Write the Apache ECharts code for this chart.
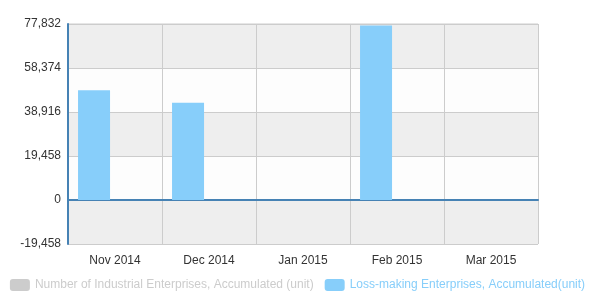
<!DOCTYPE html>
<html><head><meta charset="utf-8">
<script src="https://cdn.jsdelivr.net/npm/echarts@6/dist/echarts.min.js"></script>
<style>html,body{margin:0;padding:0;background:#fff}#c{width:595px;height:300px}</style>
</head><body><div id="c"></div>
<script>
var categories = ['Nov 2014', 'Dec 2014', 'Jan 2015', 'Feb 2015', 'Mar 2015'];
var lossMaking = [48500, 43000, null, 77200, null];
var totalEnterprises = [null, null, null, null, null];
var seriesNames = ['Number of Industrial Enterprises, Accumulated (unit)', 'Loss-making Enterprises, Accumulated(unit)'];
var yMin = -19458, yMax = 77832, yStep = 19458;

var chart = echarts.init(document.getElementById('c'), null, {renderer: 'canvas'});
var font = 'Liberation Sans, Arial, sans-serif';
chart.setOption({
  animation: false,
  textStyle: {fontFamily: font},
  grid: {left: 68, right: 57, top: 24, bottom: 56, show: true, borderColor: '#ccc', borderWidth: 1, backgroundColor: 'transparent'},
  legend: {
    left: 'center', top: 274, itemWidth: 20, itemHeight: 12, itemGap: 11,
    textStyle: {fontSize: 12, fontFamily: font},
    data: [
      {name: seriesNames[0], itemStyle: {color: '#cccccc'}, textStyle: {color: '#cccccc'}},
      {name: seriesNames[1], itemStyle: {color: '#87cefa'}, textStyle: {color: '#87cefa'}}
    ],
    selectedMode: false
  },
  xAxis: {
    type: 'category', data: categories,
    axisLine: {onZero: true, lineStyle: {color: '#4682b4', width: 2}},
    axisTick: {inside: true, length: 5, lineStyle: {color: '#4682b4'}},
    axisLabel: {color: '#333', fontSize: 12, margin: 11, fontFamily: font},
    splitLine: {show: true, lineStyle: {color: '#ccc', width: 1}}
  },
  yAxis: {
    type: 'value', min: yMin, max: yMax, interval: yStep,
    axisLine: {show: true, lineStyle: {color: '#4682b4', width: 2}},
    axisTick: {show: false},
    axisLabel: {color: '#333', fontSize: 12, margin: 7, fontFamily: font,
      formatter: function (v) { return v.toLocaleString('en-US'); }},
    splitLine: {show: true, lineStyle: {color: '#ccc', width: 1}},
    splitArea: {show: true, areaStyle: {color: ['#eeeeee', '#fdfdfd']}}
  },
  series: [
    {name: seriesNames[1], type: 'bar', data: lossMaking, barWidth: 32, barGap: '31%', itemStyle: {color: '#87cefa'}},
    {name: seriesNames[0], type: 'bar', data: totalEnterprises, barWidth: 32, itemStyle: {color: '#cccccc'}}
  ]
});
</script></body></html>
